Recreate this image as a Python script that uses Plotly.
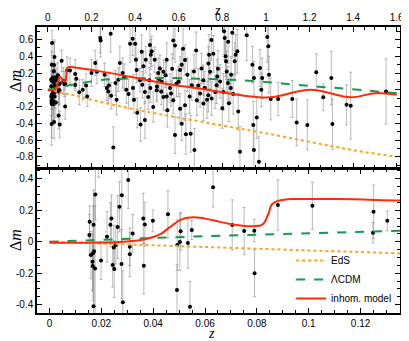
import plotly.graph_objects as go
from plotly.subplots import make_subplots

# supernova data (z, delta m, error)
z_sn = [0.0155, 0.0154, 0.0177, 0.0170, 0.0160, 0.0168, 0.0166, 0.0172, 0.0167, 0.0176,
        0.0170, 0.0199, 0.0222, 0.0235, 0.0239, 0.0244, 0.0248, 0.0250, 0.0256, 0.0263,
        0.0270, 0.0278, 0.0279, 0.0283, 0.0304, 0.0310, 0.0310, 0.0321, 0.0362, 0.0364,
        0.0368, 0.0399, 0.0457, 0.0493, 0.0492, 0.0503, 0.0506, 0.0534, 0.0542, 0.0549,
        0.0631, 0.0705, 0.0751, 0.0790, 0.0791, 0.0881, 0.1014, 0.1250, 0.1248, 0.1303,
        0.0190,
        0.144, 0.160, 0.175, 0.180, 0.200, 0.217, 0.225, 0.240, 0.242, 0.260,
        0.270, 0.277, 0.280, 0.288, 0.290, 0.300, 0.310, 0.315, 0.323, 0.330,
        0.343, 0.350, 0.360, 0.370, 0.377, 0.389, 0.390, 0.395, 0.400, 0.404,
        0.407, 0.410, 0.422, 0.425, 0.430, 0.433, 0.438, 0.445, 0.445, 0.449,
        0.460, 0.465, 0.468, 0.470, 0.472, 0.476, 0.483, 0.490, 0.499, 0.500,
        0.506, 0.510, 0.514, 0.520, 0.522, 0.530, 0.530, 0.540, 0.545, 0.545,
        0.548, 0.560, 0.565, 0.570, 0.575, 0.575, 0.583, 0.583, 0.590, 0.600,
        0.606, 0.606, 0.614, 0.614, 0.620, 0.629, 0.629, 0.633, 0.640, 0.650,
        0.655, 0.660, 0.670, 0.672, 0.680, 0.683, 0.690, 0.698, 0.705, 0.713,
        0.713, 0.720, 0.730, 0.736, 0.736, 0.739, 0.744, 0.750, 0.751, 0.759,
        0.767, 0.774, 0.777, 0.780, 0.790, 0.800, 0.805, 0.808, 0.811, 0.815,
        0.817, 0.820, 0.826, 0.827, 0.830, 0.839, 0.840, 0.846, 0.850, 0.857,
        0.861, 0.869, 0.873, 0.881,
        0.912, 0.938, 0.945, 0.942, 0.945, 0.958, 0.968, 0.973, 0.979, 0.983,
        1.006, 1.011, 1.014, 1.022, 1.056, 1.121, 1.141, 1.190, 1.231, 1.263,
        1.300, 1.305, 1.370, 1.389, 1.551]
dm_sn = [0.127, 0.043, 0.300, 0.108, -0.085, -0.073, -0.127, -0.060, -0.155, -0.170,
         -0.410, -0.120, 0.031, 0.108, 0.147, -0.148, -0.036, -0.174, -0.021, 0.094,
         0.222, -0.142, 0.295, -0.385, 0.392, -0.032, -0.080, 0.053, 0.148, -0.152,
         0.110, 0.133, 0.174, -0.021, -0.307, -0.002, 0.066, -0.008, -0.413, 0.074,
         0.347, 0.106, 0.068, 0.070, -0.200, 0.233, 0.229, 0.190, 0.057, 0.133,
         0.560,
         -0.03, 0.00, 0.05, -0.08, 0.20, 0.32, 0.215, 0.62, 0.59, 0.18,
         0.02, -0.02, 0.05, 0.67, -0.07, -0.69, 0.08, -0.12, 0.12, 0.32,
         0.20, 0.15, 0.00, -0.05, 0.55, 0.61, 0.02, -0.12, 0.55, 0.36,
         0.235, -0.275, 0.115, -0.415, 0.455, 0.06, 0.28, -0.025, -0.36, 0.36,
         -0.085, 0.115, 0.535, 0.02, 0.42, 0.46, -0.205, 0.36, -0.005, 0.04,
         0.20, 0.13, 0.255, -0.02, 0.095, 0.215, -0.085, 0.175, 0.36, -0.08,
         -0.245, 0.02, -0.045, 0.25, 0.59, -0.125, 0.53, -0.54, 0.075, 0.10,
         0.235, -0.225, 0.30, -0.405, 0.49, 0.355, -0.185, -0.53, 0.18, -0.08,
         -0.525, 0.055, 0.22, -0.72, 0.47, -0.125, 0.05, -0.045, 0.255, 0.115,
         -0.165, 0.02, -0.12, 0.315, -0.065, 0.42, 0.215, 0.595, -0.105, 0.43,
         -0.025, 0.055, 0.16, 0.25, 0.10, -0.22, -0.025, 0.70, 0.62, 0.40,
         0.34, 0.22, 0.08, 0.575, -0.16, 0.02, 0.18, 0.68, -0.05, 0.34,
         0.42, 0.46, -0.26, -0.74,
         0.65, 0.30, 0.14, -0.42, -0.72, -0.33, -0.86, 0.26, 0.00, 0.14,
         0.63, 0.52, 0.18, -0.11, -0.11, -0.11, -0.39, -0.42, 0.21, -0.09,
         0.14, -0.41, -0.18, -0.19, -0.02]
err_sn = [0.10, 0.13, 0.16, 0.22, 0.15, 0.30, 0.18, 0.35, 0.16, 0.40,
          0.25, 0.12, 0.16, 0.14, 0.15, 0.14, 0.14, 0.18, 0.12, 0.20,
          0.16, 0.22, 0.30, 0.20, 0.18, 0.12, 0.14, 0.12, 0.16, 0.18,
          0.14, 0.07, 0.15, 0.16, 0.16, 0.18, 0.12, 0.16, 0.16, 0.06,
          0.127, 0.16, 0.15, 0.07, 0.15, 0.16, 0.15, 0.17, 0.065, 0.063,
          0.15,
          0.15, 0.12, 0.14, 0.12, 0.16, 0.15, 0.14, 0.18, 0.20, 0.14,
          0.15, 0.14, 0.16, 0.22, 0.16, 0.25, 0.15, 0.18, 0.14, 0.20,
          0.18, 0.16, 0.16, 0.18, 0.22, 0.20, 0.16, 0.16, 0.18, 0.18,
          0.15, 0.18, 0.14, 0.20, 0.20, 0.16, 0.18, 0.14, 0.22, 0.16,
          0.15, 0.15, 0.22, 0.17, 0.18, 0.18, 0.18, 0.15, 0.14, 0.16,
          0.18, 0.15, 0.16, 0.16, 0.14, 0.14, 0.16, 0.15, 0.20, 0.18,
          0.20, 0.17, 0.15, 0.18, 0.22, 0.16, 0.20, 0.22, 0.16, 0.18,
          0.16, 0.18, 0.18, 0.20, 0.24, 0.18, 0.18, 0.24, 0.20, 0.20,
          0.22, 0.18, 0.20, 0.26, 0.22, 0.18, 0.20, 0.16, 0.18, 0.18,
          0.20, 0.20, 0.22, 0.20, 0.20, 0.24, 0.20, 0.24, 0.20, 0.22,
          0.20, 0.22, 0.20, 0.22, 0.20, 0.24, 0.22, 0.28, 0.26, 0.24,
          0.22, 0.24, 0.20, 0.26, 0.22, 0.18, 0.22, 0.30, 0.24, 0.22,
          0.24, 0.26, 0.22, 0.30,
          0.30, 0.22, 0.20, 0.28, 0.30, 0.25, 0.30, 0.22, 0.20, 0.24,
          0.30, 0.28, 0.22, 0.25, 0.20, 0.22, 0.28, 0.30, 0.22, 0.16,
          0.32, 0.30, 0.24, 0.40, 0.39]

# model curves
z_eds = [0, 0.05, 0.1, 0.135, 0.2, 0.45, 0.7, 1.0, 1.4, 1.6]
dm_eds = [0, -0.028, -0.055, -0.074, -0.12, -0.26, -0.38, -0.52, -0.72, -0.80]

z_lcdm = [0, 0.06, 0.135, 0.24, 0.38, 0.55, 0.83, 1.0, 1.18, 1.33, 1.6]
dm_lcdm = [0, 0.035, 0.07, 0.115, 0.135, 0.14, 0.12, 0.092, 0.05, 0.02, -0.04]

z_inh = [0, 0.01, 0.02, 0.03, 0.035, 0.04, 0.043, 0.0454, 0.0475, 0.0493,
         0.0515, 0.0532, 0.0557, 0.058, 0.06, 0.064, 0.0676, 0.0715, 0.0753, 0.079,
         0.0818, 0.083, 0.0837, 0.0847, 0.0856, 0.0868, 0.0882, 0.0905, 0.0934, 0.111,
         0.135, 0.24, 0.39, 0.545, 0.71, 0.9, 1.02, 1.205, 1.39, 1.5, 1.6]
dm_inh = [-0.006, -0.006, -0.005, 0.002, 0.01, 0.03, 0.05, 0.08, 0.105, 0.127,
          0.145, 0.152, 0.155, 0.152, 0.147, 0.133, 0.12, 0.108, 0.10, 0.099,
          0.106, 0.125, 0.148, 0.19, 0.233, 0.25, 0.26, 0.267, 0.271, 0.271,
          0.262, 0.22, 0.15, 0.07, 0.01, -0.07, -0.09, 0.0, -0.09, -0.04, -0.06]

fig = make_subplots(rows=2, cols=1, vertical_spacing=0.005)

for row in [1, 2]:
    fig.add_trace(go.Scatter(
        x=z_sn, y=dm_sn, mode='markers',
        marker=dict(color='black', size=4),
        error_y=dict(type='data', array=err_sn, color='rgba(140,140,140,0.6)', thickness=1, width=1.5),
        showlegend=False, hoverinfo='skip'), row=row, col=1)
    fig.add_trace(go.Scatter(
        x=z_eds, y=dm_eds, mode='lines', name='EdS', line_shape='spline',
        line=dict(color='#FFA31A', width=2, dash='dot'),
        showlegend=(row == 2)), row=row, col=1)
    fig.add_trace(go.Scatter(
        x=z_lcdm, y=dm_lcdm, mode='lines', name='ΛCDM', line_shape='spline',
        line=dict(color='#169B4E', width=2, dash='dash'),
        showlegend=(row == 2)), row=row, col=1)
    fig.add_trace(go.Scatter(
        x=z_inh, y=dm_inh, mode='lines', name='inhom. model', line_shape='spline',
        line=dict(color='#FF2A0A', width=2),
        showlegend=(row == 2)), row=row, col=1)

tickfont = dict(family='Liberation Sans', size=10, color='black')
axis_common = dict(showline=True, linecolor='black', linewidth=1.5, mirror='ticks',
                   ticks='inside', ticklen=5, tickcolor='black', showgrid=False,
                   zeroline=False, tickfont=tickfont, automargin=False)

top_x = [0, 0.2, 0.4, 0.6, 0.8, 1.0, 1.2, 1.4, 1.6]
top_x_txt = ['0', '0.2', '0.4', '0.6', '0.8', '1', '1.2', '1.4', '1.6']
top_y = [-0.8, -0.6, -0.4, -0.2, 0, 0.2, 0.4, 0.6]
top_y_txt = ['-0.8', '-0.6', '-0.4', '-0.2', '0', '0.2', '0.4', '0.6']
bot_x = [0, 0.02, 0.04, 0.06, 0.08, 0.1, 0.12]
bot_x_txt = ['0', '0.02', '0.04', '0.06', '0.08', '0.1', '0.12']
bot_y = [-0.4, -0.2, 0, 0.2, 0.4]
bot_y_txt = ['-0.4', '-0.2', '0', '0.2', '0.4']

fig.update_xaxes(row=1, col=1, range=[-0.05, 1.615], side='top', tickvals=top_x, ticktext=top_x_txt,
                 minor=dict(dtick=0.05, tick0=0, ticklen=3, ticks='inside', tickcolor='black'), **axis_common)
fig.update_yaxes(row=1, col=1, range=[-0.934, 0.75], domain=[0.507, 1], tickvals=top_y, ticktext=top_y_txt,
                 minor=dict(dtick=0.1, tick0=0, ticklen=3, ticks='inside', tickcolor='black'), **axis_common)
fig.update_xaxes(row=2, col=1, range=[-0.0048, 0.1352], tickvals=bot_x, ticktext=bot_x_txt,
                 minor=dict(dtick=0.005, tick0=0, ticklen=3, ticks='inside', tickcolor='black'), **axis_common)
fig.update_yaxes(row=2, col=1, range=[-0.453, 0.4615], domain=[0, 0.503], tickvals=bot_y, ticktext=bot_y_txt,
                 minor=dict(dtick=0.05, tick0=0, ticklen=3, ticks='inside', tickcolor='black'), **axis_common)

lab = dict(xref='paper', yref='paper', showarrow=False, xanchor='center', yanchor='middle',
           font=dict(family='Liberation Serif', size=16, color='black'))
fig.add_annotation(text='Δ<i>m</i>', x=-0.061, y=0.811, textangle=-90, **lab)
fig.add_annotation(text='Δ<i>m</i>', x=-0.061, y=0.255, textangle=-90, **lab)
zlab = dict(xref='paper', yref='paper', showarrow=False, xanchor='center', yanchor='middle',
            font=dict(family='Liberation Serif', size=14, color='black'))
fig.add_annotation(text='<i>z</i>', x=0.496, y=1.056, **zlab)
fig.add_annotation(text='<i>z</i>', x=0.481, y=-0.073, **zlab)

# page body adds an 8px offset, so the figure is 8px smaller than the window
fig.update_layout(
    width=401, height=333,
    margin=dict(l=29, r=9, t=19, b=28),
    paper_bgcolor='white', plot_bgcolor='white',
    legend=dict(x=0.70, y=0.0, xanchor='left', yanchor='bottom', bgcolor='rgba(0,0,0,0)',
                font=dict(family='Liberation Sans', size=10, color='black'), tracegroupgap=0),
)

fig.write_html("out.html")
